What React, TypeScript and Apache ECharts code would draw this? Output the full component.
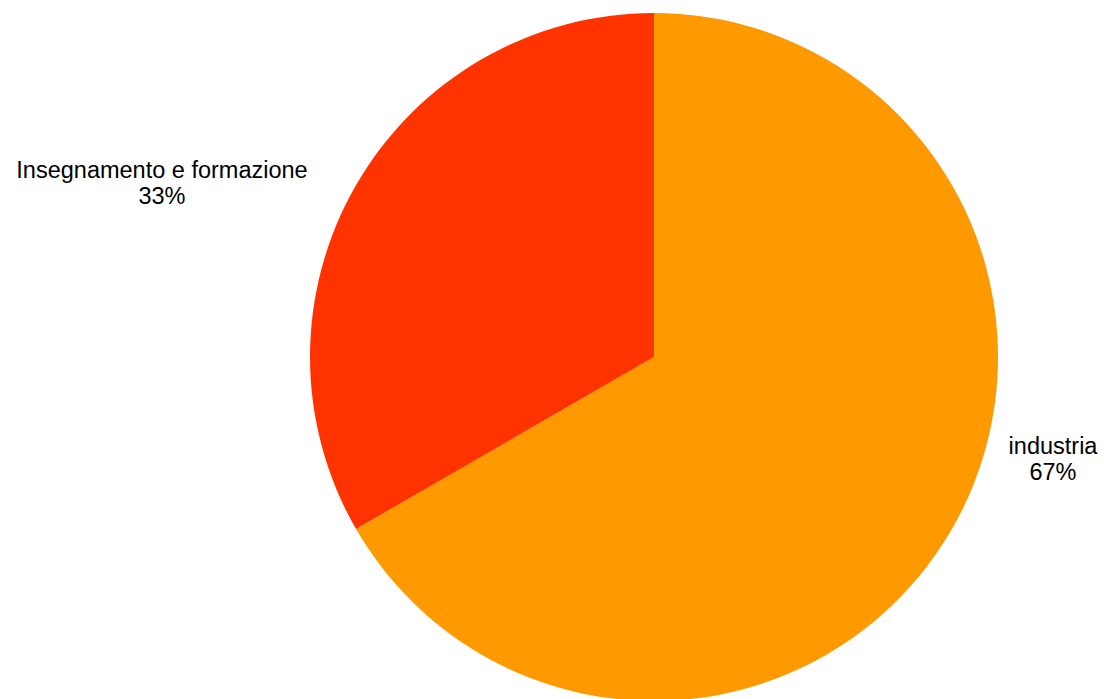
import React, { useEffect, useRef } from "react";
import * as echarts from "echarts";

const categories = ["industria", "Insegnamento e formazione"];
const values = [2, 1];
const colors = ["#FF9900", "#FF3300"];

export default function App() {
  const ref = useRef<HTMLDivElement>(null);
  useEffect(() => {
    if (!ref.current) return;
    const chart = echarts.init(ref.current, null, { renderer: "svg" });
    const labelPos = [
      { x: 1053, y: 459 },
      { x: 162, y: 183 },
    ];
    chart.setOption({
      animation: false,
      backgroundColor: "#ffffff",
      series: [
        {
          type: "pie",
          center: [654, 357],
          radius: 344,
          startAngle: 90,
          clockwise: true,
          percentPrecision: 0,
          data: categories.map((name, i) => ({
            name,
            value: values[i],
            itemStyle: { color: colors[i] },
          })),
          label: {
            show: true,
            position: "outside",
            formatter: "{b}\n{d}%",
            color: "#000000",
            fontFamily: "Liberation Sans, Arial, sans-serif",
            fontSize: 23.5,
            lineHeight: 26,
            align: "center",
          },
          labelLine: { show: false },
          labelLayout: (params: any) => ({
            x: labelPos[params.dataIndex].x,
            y: labelPos[params.dataIndex].y,
            align: "center",
            verticalAlign: "middle",
          }),
          emphasis: { disabled: true },
        },
      ],
    });
    return () => chart.dispose();
  }, []);
  return (
    <div
      ref={ref}
      style={{ position: "fixed", left: 0, top: 0, width: 1104, height: 699 }}
    />
  );
}
